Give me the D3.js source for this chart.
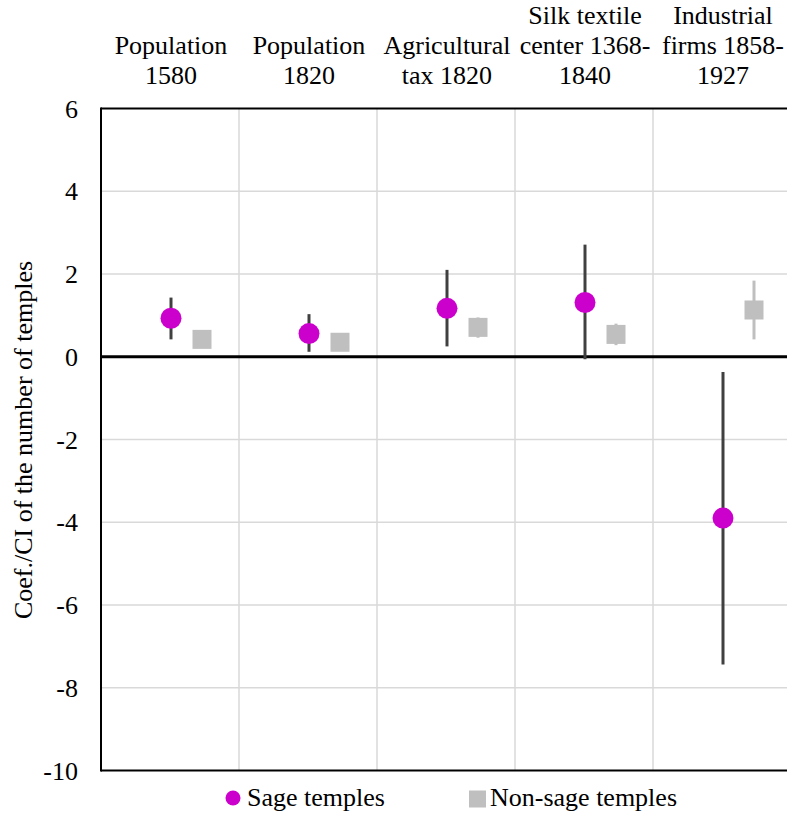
<!DOCTYPE html>
<html>
<head>
<meta charset="utf-8">
<script src="https://cdn.jsdelivr.net/npm/d3@7"></script>
<style>
  svg text, svg tspan { font-family: 'Times New Roman', 'Liberation Serif', Tinos, serif !important; }
</style>
</head>
<body style="margin:0">
<script>
// category labels (already wrapped as in the original)
var categories = [
    ["Population", "1580"],
    ["Population", "1820"],
    ["Agricultural", "tax 1820"],
    ["Silk textile", "center 1368-", "1840"],
    ["Industrial", "firms 1858-", "1927"]
];
// sage temples: coef and CI
var sageCoef = [0.93, 0.56, 1.17, 1.31, -3.90];
var sageLow  = [0.42, 0.12, 0.25, -0.06, -7.44];
var sageHigh = [1.43, 1.03, 2.10, 2.71, -0.37];
// non-sage temples: coef and CI
var nonSageCoef = [0.42, 0.35, 0.71, 0.54, 1.13];
var nonSageLow  = [0.30, 0.24, 0.46, 0.28, 0.42];
var nonSageHigh = [0.55, 0.47, 0.95, 0.80, 1.84];
var yTicks = [6, 4, 2, 0, -2, -4, -6, -8, -10];
var seriesNames = ["Sage temples", "Non-sage temples"];

var width = 787, height = 816;
var margin = { top: 108.5, left: 101, bottom: 45.5 };
var band = 138;
var font = "'Times New Roman', 'Liberation Serif', Tinos, serif";

var svg = d3.select("body").append("svg")
    .attr("width", width)
    .attr("height", height)
    .style("display", "block");

var x = d3.scaleBand()
    .domain(d3.range(categories.length))
    .range([margin.left, margin.left + band * categories.length])
    .paddingInner(0).paddingOuter(0);

var y = d3.scaleLinear()
    .domain([-10, 6])
    .range([height - margin.bottom, margin.top]);

var xRight = margin.left + band * categories.length;
var sqOffset = 31;

function label(sel) {
    return sel.attr("font-family", font)
        .attr("font-size", 26)
        .attr("fill", "#000");
}

// gridlines
var grid = svg.append("g").attr("class", "grid");
grid.selectAll("line.h")
    .data(yTicks.filter(function (d) { return d !== 0 && d !== 6 && d !== -10; }))
    .enter().append("line")
    .attr("class", "h")
    .attr("x1", margin.left).attr("x2", xRight)
    .attr("y1", function (d) { return y(d); })
    .attr("y2", function (d) { return y(d); })
    .attr("stroke", "#d9d9d9").attr("stroke-width", 1.5);
grid.selectAll("line.v")
    .data(d3.range(1, categories.length))
    .enter().append("line")
    .attr("class", "v")
    .attr("x1", function (d) { return x(d); })
    .attr("x2", function (d) { return x(d); })
    .attr("y1", y(6)).attr("y2", y(-10))
    .attr("stroke", "#d9d9d9").attr("stroke-width", 1.5);

// axis lines
var axes = svg.append("g").attr("class", "axes");
axes.append("line")
    .attr("x1", margin.left).attr("x2", xRight)
    .attr("y1", y(6)).attr("y2", y(6))
    .attr("stroke", "#000").attr("stroke-width", 2);
axes.append("line")
    .attr("x1", margin.left).attr("x2", xRight)
    .attr("y1", y(-10)).attr("y2", y(-10))
    .attr("stroke", "#000").attr("stroke-width", 2);
axes.append("line")
    .attr("x1", margin.left).attr("x2", margin.left)
    .attr("y1", y(6) - 1).attr("y2", y(-10) + 1)
    .attr("stroke", "#000").attr("stroke-width", 2);
axes.append("line")
    .attr("x1", margin.left).attr("x2", xRight)
    .attr("y1", y(0)).attr("y2", y(0))
    .attr("stroke", "#000").attr("stroke-width", 3);

// y tick labels
svg.append("g").selectAll("text")
    .data(yTicks)
    .enter().append("text")
    .call(label)
    .attr("x", 78)
    .attr("y", function (d) { return y(d) + 9; })
    .attr("text-anchor", "end")
    .text(function (d) { return d; });

// y axis title
svg.append("text")
    .call(label)
    .attr("transform", "translate(32,440) rotate(-90)")
    .attr("text-anchor", "middle")
    .text("Coef./CI of the number of temples");

// category labels at the top, bottom-aligned
var lineH = 30;
svg.append("g").selectAll("text")
    .data(categories)
    .enter().append("text")
    .call(label)
    .attr("text-anchor", "middle")
    .each(function (lines, i) {
        var t = d3.select(this);
        var cx = x(i) + x.bandwidth() / 2 + 1;
        lines.forEach(function (ln, j) {
            t.append("tspan")
                .attr("x", cx)
                .attr("y", 84 - (lines.length - 1 - j) * lineH)
                .text(ln);
        });
    });

var cxSage = function (i) { return x(i) + x.bandwidth() / 2 + 1; };
var cxNon = function (i) { return x(i) + x.bandwidth() / 2 + 1 + sqOffset; };

// non-sage error bars + squares
var non = svg.append("g");
non.selectAll("line")
    .data(nonSageCoef)
    .enter().append("line")
    .attr("x1", function (d, i) { return cxNon(i); })
    .attr("x2", function (d, i) { return cxNon(i); })
    .attr("y1", function (d, i) { return y(nonSageHigh[i]); })
    .attr("y2", function (d, i) { return y(nonSageLow[i]); })
    .attr("stroke", "#bfbfbf").attr("stroke-width", 3);
var sq = 19;
non.selectAll("rect")
    .data(nonSageCoef)
    .enter().append("rect")
    .attr("x", function (d, i) { return cxNon(i) - sq / 2; })
    .attr("y", function (d) { return y(d) - sq / 2; })
    .attr("width", sq).attr("height", sq)
    .attr("fill", "#bfbfbf");

// sage error bars + circles
var sage = svg.append("g");
sage.selectAll("line")
    .data(sageCoef)
    .enter().append("line")
    .attr("x1", function (d, i) { return cxSage(i); })
    .attr("x2", function (d, i) { return cxSage(i); })
    .attr("y1", function (d, i) { return y(sageHigh[i]); })
    .attr("y2", function (d, i) { return y(sageLow[i]); })
    .attr("stroke", "#404040").attr("stroke-width", 3);
sage.selectAll("circle")
    .data(sageCoef)
    .enter().append("circle")
    .attr("cx", function (d, i) { return cxSage(i); })
    .attr("cy", function (d) { return y(d); })
    .attr("r", 10.5)
    .attr("fill", "#cc00cc");

// legend
var legend = svg.append("g");
legend.append("circle")
    .attr("cx", 233).attr("cy", 798).attr("r", 7.5)
    .attr("fill", "#cc00cc");
legend.append("text")
    .call(label)
    .attr("x", 247).attr("y", 806)
    .text(seriesNames[0]);
legend.append("rect")
    .attr("x", 469).attr("y", 790.5).attr("width", 17).attr("height", 17)
    .attr("fill", "#bfbfbf");
legend.append("text")
    .call(label)
    .attr("x", 490).attr("y", 806)
    .text(seriesNames[1]);
</script>
</body>
</html>
